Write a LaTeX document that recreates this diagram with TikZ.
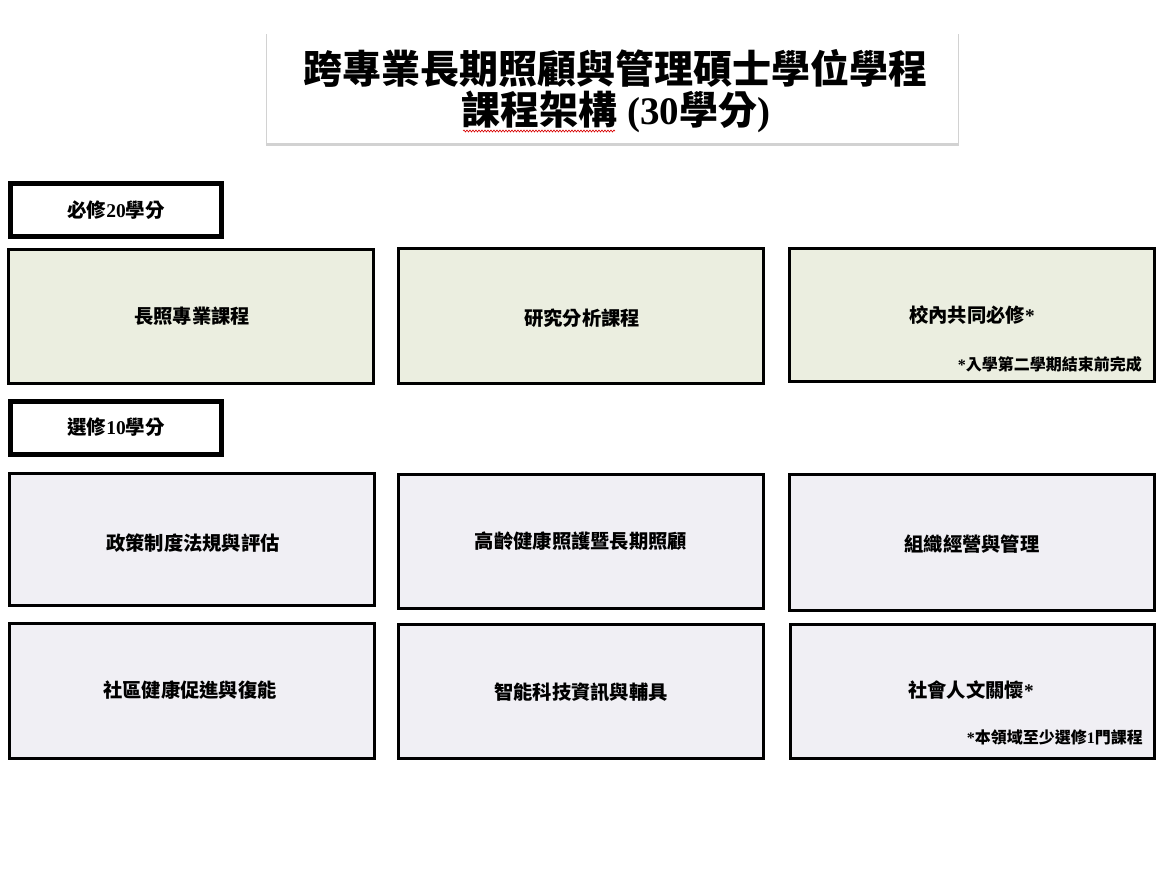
\documentclass[tikz,border=0pt]{standalone}
\usepackage{fontspec}
\setmainfont{Liberation Serif}
\newfontfamily\cjk{Noto Sans CJK TC}
\usetikzlibrary{shadows,decorations.pathmorphing}
\newcommand\zh[1]{{\cjk\bfseries #1}}
\definecolor{reqfill}{RGB}{235,238,224}
\definecolor{elefill}{RGB}{240,239,244}
\tikzset{
  titlebox/.style={fill=white, minimum width=691pt, minimum height=111pt,
    drop shadow={opacity=0.22, shadow xshift=0pt, shadow yshift=-2.5pt, shadow scale=1.004, fill=black!80}},
  hdrbox/.style={draw=black, line width=5pt, fill=white, minimum width=211pt, minimum height=53pt, inner sep=0pt,
    font=\fontsize{19.5}{21}\selectfont\bfseries},
  reqbox/.style={draw=black, line width=3pt, fill=reqfill, minimum width=365pt, minimum height=134pt, inner sep=0pt},
  elebox/.style={draw=black, line width=3pt, fill=elefill, minimum width=365pt, minimum height=134pt, inner sep=0pt},
  lbl/.style={font=\fontsize{19.3}{21}\selectfont\bfseries, inner sep=0pt},
  note/.style={font=\fontsize{16}{18}\selectfont\bfseries, inner sep=0pt, anchor=east},
  ttl/.style={font=\fontsize{39}{41}\selectfont\bfseries, inner sep=0pt},
}
\begin{document}
\begin{tikzpicture}[x=1pt,y=-1pt]
\useasboundingbox (0,0) rectangle (1166,868);
% title
\node[titlebox] (title) at (612.5,87.5) {};
\node[ttl] (t1) at (615,68) {\zh{跨專業長期照顧與管理碩士學位學程}};
\node[ttl] (t2) at (616,112) {\zh{課程架構} (30\zh{學分})};
\coordinate (sqa) at (463,131);
\coordinate (sqb) at (615,131);
\draw[red!85!black, line width=0.6pt, decorate, decoration={snake, amplitude=1pt, segment length=3pt}] (sqa) -- (sqb);
% headers
\node[hdrbox] (h1) at (116,210) {\zh{必修}20\zh{學分}};
\node[hdrbox] (h2) at (116,427.5) {\zh{選修}10\zh{學分}};
% required row
\node[reqbox] (r1) at (191,316.5) {};
\node[reqbox, minimum height=135pt] (r2) at (580.5,316) {};
\node[reqbox, minimum height=133pt] (r3) at (971.5,315) {};
\node[lbl] (r1t) at (192,316) {\zh{長照專業課程}};
\node[lbl] (r2t) at (582,318) {\zh{研究分析課程}};
\node[lbl] (r3t) at (972,315) {\zh{校內共同必修}*};
\node[note] (r3n) at (1142,364) {*\zh{入學第二學期結束前完成}};
% elective rows
\node[elebox, minimum height=132pt] (e1) at (192,539.5) {};
\node[elebox, minimum width=365pt] (e2) at (581,541.5) {};
\node[elebox, minimum height=136pt] (e3) at (972,542.5) {};
\node[lbl] (e1t) at (193,543) {\zh{政策制度法規與評估}};
\node[lbl] (e2t) at (581,541) {\zh{高齡健康照護暨長期照顧}};
\node[lbl] (e3t) at (972,544) {\zh{組織經營與管理}};
\node[elebox, minimum height=135pt] (e4) at (191.5,691) {};
\node[elebox, minimum height=134pt] (e5) at (581,691.5) {};
\node[elebox, minimum width=364pt, minimum height=134pt] (e6) at (972.5,691.5) {};
\node[lbl] (e4t) at (190,690) {\zh{社區健康促進與復能}};
\node[lbl] (e5t) at (581,692) {\zh{智能科技資訊與輔具}};
\node[lbl] (e6t) at (971,690) {\zh{社會人文關懷}*};
\node[note] (e6n) at (1143,737) {*\zh{本領域至少選修}1\zh{門課程}};
\end{tikzpicture}
\end{document}
